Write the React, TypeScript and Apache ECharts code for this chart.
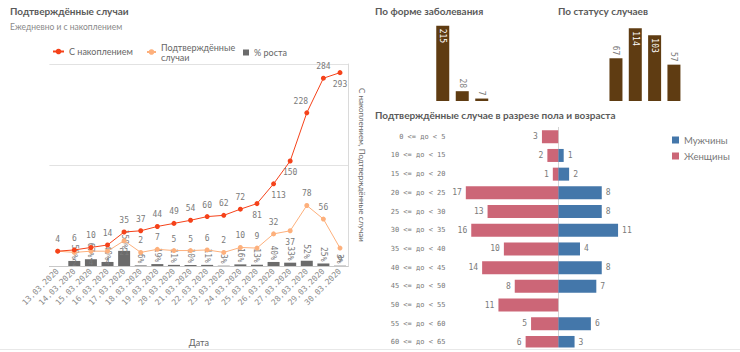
import React, { useEffect, useRef } from 'react';
import * as echarts from 'echarts';

const dates = ['13.03.2020','14.03.2020','15.03.2020','16.03.2020','17.03.2020','18.03.2020','19.03.2020','20.03.2020','21.03.2020','22.03.2020','23.03.2020','24.03.2020','25.03.2020','26.03.2020','27.03.2020','28.03.2020','29.03.2020','30.03.2020'];
const cumulative = [4,6,10,14,35,37,44,49,54,60,62,72,81,113,150,228,284,293];
const daily = [4,2,4,4,21,2,7,5,5,6,2,10,9,32,37,78,56,9];
const growth: (number | null)[] = [null,50,67,40,150,6,19,11,10,11,3,16,13,40,33,52,25,3];

const formCats = ['Лёгкая','Средняя','Тяжёлая'];
const formValues = [215,28,7];
const statusCats = ['Статус 1','Статус 2','Статус 3','Статус 4'];
const statusValues = [67,114,103,57];

const ageCats = ['0 <= до < 5','10 <= до < 15','15 <= до < 20','20 <= до < 25','25 <= до < 30','30 <= до < 35','35 <= до < 40','40 <= до < 45','45 <= до < 50','50 <= до < 55','55 <= до < 60','60 <= до < 65'];
const men = [0,1,2,8,8,11,4,8,7,0,6,3];
const women = [3,2,1,17,13,16,10,14,8,11,5,6];

const cumLabelPos = ['top','top','top','top','top','top','top','top','top','top','top','top','bottom','bottom','bottom','top','top','bottom'];
const dailyLabelPos = ['none','bottom','bottom','bottom','bottom','top','top','top','top','top','top','top','top','top','bottom','top','top','bottom'];

const MONO = '"DejaVu Sans Mono", monospace';
const SANS = 'Lato, "Noto Sans", sans-serif';
const RED = '#f5421a';
const ORANGE = '#fdb07c';
const GRAY = '#6b6b6b';
const BROWN = '#5f3c12';
const BLUE = '#4477aa';
const PINK = '#cc6677';
const LABEL = { fontFamily: MONO, fontSize: 8, color: '#7a7a7a' };
const TITLE = { fontFamily: SANS, fontSize: 10, fontWeight: 'bold' as const, color: '#5a5a5a' };

export default function App() {
  const ref = useRef<HTMLDivElement>(null);
  useEffect(() => {
    const chart = echarts.init(ref.current!, null, { renderer: 'svg' });
    chart.setOption({
      animation: false,
      backgroundColor: '#ffffff',
      title: [
        { text: 'Подтверждённые случаи', subtext: 'Ежедневно и с накоплением', left: 10, top: 6, padding: 0, itemGap: 6,
          textStyle: TITLE, subtextStyle: { fontFamily: SANS, fontSize: 8.5, color: '#8a8a8a' } },
        { text: 'По форме заболевания', left: 375, top: 6, padding: 0, textStyle: TITLE },
        { text: 'По статусу случаев', left: 558, top: 6, padding: 0, textStyle: TITLE },
        { text: 'Подтверждённые случае в разрезе пола и возраста', left: 375, top: 110, padding: 0, textStyle: TITLE },
      ],
      legend: [
        { data: ['С накоплением'], left: 52, top: 47, padding: 0, itemWidth: 11, itemHeight: 7,
          textStyle: { fontFamily: SANS, fontSize: 9, color: '#666' } },
        { data: ['Подтверждённые случаи'], left: 146, top: 42, padding: 0, itemWidth: 9, itemHeight: 7,
          formatter: () => 'Подтверждённые\nслучаи',
          textStyle: { fontFamily: SANS, fontSize: 9, color: '#666', lineHeight: 10 } },
        { data: ['% роста'], left: 243, top: 48, padding: 0, itemWidth: 6, itemHeight: 6, icon: 'rect',
          textStyle: { fontFamily: SANS, fontSize: 9, color: '#666' } },
        { data: ['Мужчины', 'Женщины'], orient: 'vertical', left: 672, top: 135, padding: 0, itemGap: 6,
          itemWidth: 7, itemHeight: 7, icon: 'rect',
          textStyle: { fontFamily: SANS, fontSize: 9.5, color: '#777' } },
      ],
      grid: [
        { left: 49.4, right: 391.7, top: 64, height: 202 },
        { left: 433, width: 58.5, top: 25.7, height: 75.3 },
        { left: 606.3, width: 77.3, top: 28.3, height: 72.7 },
        { left: 449.5, right: 73, top: 127.4, height: 224.4 },
      ],
      xAxis: [
        { type: 'category', gridIndex: 0, data: dates,
          axisLine: { lineStyle: { color: '#c8c8c8' } }, axisTick: { show: false },
          axisLabel: { rotate: 45, interval: 0, margin: 4, fontFamily: MONO, fontSize: 8, color: '#8a8a8a' },
          name: 'Дата', nameLocation: 'middle', nameGap: 72,
          nameTextStyle: { fontFamily: SANS, fontSize: 9, color: '#666' } },
        { type: 'category', gridIndex: 1, data: formCats, show: false },
        { type: 'category', gridIndex: 2, data: statusCats, show: false },
        { type: 'value', gridIndex: 3, min: -20, max: 20, show: false },
      ],
      yAxis: [
        { type: 'value', gridIndex: 0, min: 0, max: 2000, interval: 1000, position: 'left',
          axisLabel: { show: false }, axisLine: { show: false }, axisTick: { show: false },
          splitLine: { lineStyle: { color: '#e2e2e2' } } },
        { type: 'value', gridIndex: 0, min: -20, max: 307, position: 'right',
          axisLabel: { show: false }, axisTick: { show: false }, splitLine: { show: false },
          axisLine: { show: true, lineStyle: { color: '#dadada' } },
          name: 'С накоплением, Подтверждённые случаи', nameLocation: 'middle', nameRotate: -90, nameGap: 10,
          nameTextStyle: { fontFamily: SANS, fontSize: 8, color: '#666' } },
        { type: 'value', gridIndex: 1, min: 0, max: 215, show: false },
        { type: 'value', gridIndex: 2, min: 0, max: 114, show: false },
        { type: 'category', gridIndex: 3, data: ageCats, inverse: true,
          axisLine: { show: true, lineStyle: { color: '#d4d4d4' } }, axisTick: { show: false },
          axisLabel: { fontFamily: MONO, fontSize: 7, color: '#777', margin: 4 } },
      ],
      series: [
        { name: '% роста', type: 'bar', xAxisIndex: 0, yAxisIndex: 0, barWidth: 12, z: 1,
          itemStyle: { color: GRAY }, data: growth,
          label: { show: true, position: 'top', rotate: -90, align: 'right', verticalAlign: 'middle', distance: 2,
            formatter: '{c}%', ...LABEL } },
        { name: 'Подтверждённые случаи', type: 'line', xAxisIndex: 0, yAxisIndex: 1, z: 3,
          symbol: 'circle', symbolSize: 5, lineStyle: { width: 1, color: ORANGE }, itemStyle: { color: ORANGE },
          data: daily.map((v, i) => ({ value: v, label: dailyLabelPos[i] === 'none'
            ? { show: false } : { show: true, position: dailyLabelPos[i], ...LABEL } })) },
        { name: 'С накоплением', type: 'line', xAxisIndex: 0, yAxisIndex: 1, z: 4,
          symbol: 'circle', symbolSize: 5, lineStyle: { width: 1, color: RED }, itemStyle: { color: RED },
          data: cumulative.map((v, i) => ({ value: v, label: { show: true, position: cumLabelPos[i],
            offset: i === 15 ? [-6, 0] : i === 13 ? [5, 0] : [0, 0], ...LABEL } })) },
        { name: 'Форма', type: 'bar', xAxisIndex: 1, yAxisIndex: 2, barWidth: 13, itemStyle: { color: BROWN },
          data: formValues.map((v, i) => ({ value: v, label: i === 0
            ? { show: true, position: 'insideTop', rotate: -90, align: 'left', verticalAlign: 'middle', distance: 3, ...LABEL, color: '#ffffff' }
            : { show: true, position: 'top', rotate: -90, align: 'right', verticalAlign: 'middle', distance: 3, ...LABEL } })) },
        { name: 'Статус', type: 'bar', xAxisIndex: 2, yAxisIndex: 3, barWidth: 13, itemStyle: { color: BROWN },
          data: statusValues.map((v, i) => ({ value: v, label: (i === 1 || i === 2)
            ? { show: true, position: 'insideTop', rotate: -90, align: 'left', verticalAlign: 'middle', distance: 3, ...LABEL, color: '#ffffff' }
            : { show: true, position: 'top', rotate: -90, align: 'right', verticalAlign: 'middle', distance: 3, ...LABEL } })) },
        { name: 'Мужчины', type: 'bar', xAxisIndex: 3, yAxisIndex: 4, stack: 'age', barWidth: 13,
          itemStyle: { color: BLUE }, data: men.map((v) => (v === 0 ? null : v)),
          label: { show: true, position: 'right', distance: 4, ...LABEL } },
        { name: 'Женщины', type: 'bar', xAxisIndex: 3, yAxisIndex: 4, stack: 'age', barWidth: 13,
          itemStyle: { color: PINK }, data: women.map((v) => (v === 0 ? null : -v)),
          label: { show: true, position: 'left', distance: 4, ...LABEL,
            formatter: (p: any) => String(Math.abs(p.value)) } },
      ],
      graphic: [
        { type: 'rect', shape: { x: 370, y: 347.5, width: 370, height: 5 }, style: { fill: '#ffffff' }, z: 100 },
        { type: 'line', shape: { x1: 0, y1: 349.5, x2: 740, y2: 349.5 }, style: { stroke: '#e8e8e8', lineWidth: 1 }, z: 101 },
      ],
    });
    return () => chart.dispose();
  }, []);
  return <div ref={ref} style={{ position: 'fixed', left: 0, top: 0, width: 740, height: 352, background: '#fff' }} />;
}
